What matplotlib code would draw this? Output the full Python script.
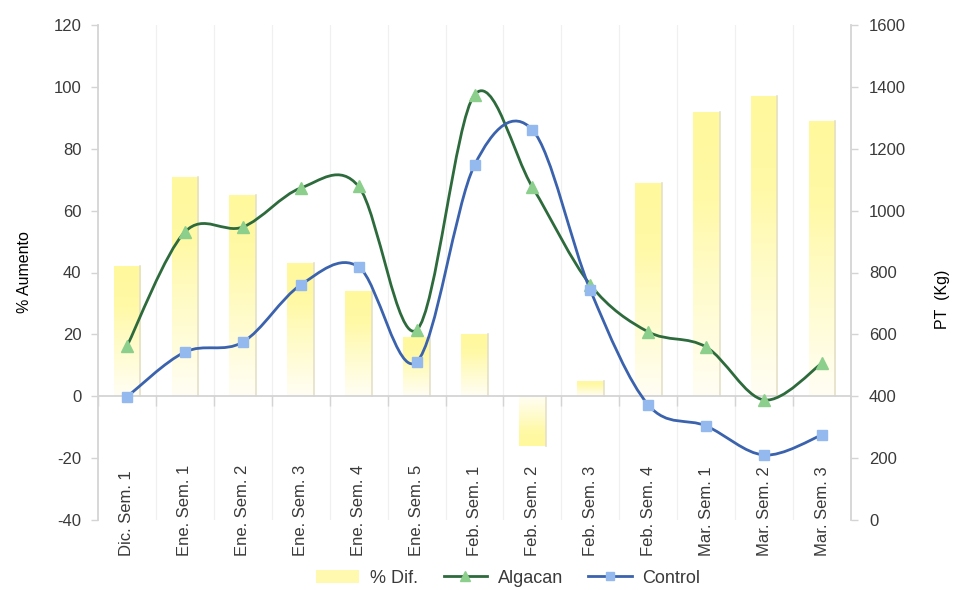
import numpy as np
import matplotlib
matplotlib.use("Agg")
import matplotlib.pyplot as plt
import matplotlib.transforms as mtransforms
from matplotlib.path import Path
from matplotlib.patches import PathPatch, Rectangle, Patch
from matplotlib.lines import Line2D
from matplotlib.colors import LinearSegmentedColormap

plt.rcParams["font.family"] = ["Liberation Sans", "DejaVu Sans"]
plt.rcParams["axes.unicode_minus"] = False

# ── Data ──────────────────────────────────────────────────────────────────────
semanas = ["Dic. Sem. 1", "Ene. Sem. 1", "Ene. Sem. 2", "Ene. Sem. 3",
           "Ene. Sem. 4", "Ene. Sem. 5", "Feb. Sem. 1", "Feb. Sem. 2",
           "Feb. Sem. 3", "Feb. Sem. 4", "Mar. Sem. 1", "Mar. Sem. 2",
           "Mar. Sem. 3"]
pct_dif = [42, 71, 65, 43, 34, 19, 20, -16, 5, 69, 92, 97, 89]
algacan = [562, 931, 947, 1073, 1078, 614, 1374, 1076, 760, 608, 559, 388, 507]
control = [398, 543, 575, 760, 818, 511, 1147, 1261, 743, 372, 304, 210, 275]

GREEN, GREEN_MK = "#2d6a3c", "#8ccf8c"
BLUE, BLUE_MK = "#3a62ad", "#94b9ef"
TXT = "#3a3a3a"
AXC = "#d4d4d4"
FS = 12


def smooth_path(xs, ys):
    """Catmull-Rom style cubic Bezier path through the points."""
    pts = np.column_stack([xs, ys]).astype(float)
    ext = np.vstack([pts[0], pts, pts[-1]])
    verts, codes = [tuple(pts[0])], [Path.MOVETO]
    for i in range(len(pts) - 1):
        p0, p1, p2, p3 = ext[i], ext[i + 1], ext[i + 2], ext[i + 3]
        c1 = p1 + (p2 - p0) / 6.0
        c2 = p2 - (p3 - p1) / 6.0
        verts += [tuple(c1), tuple(c2), tuple(p2)]
        codes += [Path.CURVE4] * 3
    return Path(verts, codes)


fig = plt.figure(figsize=(9.59, 5.90), dpi=100)
ax = fig.add_axes([98 / 959, 1 - 520 / 590, (851 - 98) / 959, (520 - 25) / 590])
ax2 = ax.twinx()

x = np.arange(len(semanas))

# faint category separators
bounds = np.arange(len(semanas) + 1) - 0.5
for b in bounds[1:-1]:
    ax.axvline(b, color="#f0f0f0", lw=0.9, zorder=0)

# gradient bars for % Dif.
cmap = LinearSegmentedColormap.from_list(
    "amarillo", [(0.0, "#fffef4"), (0.45, "#fffbc4"), (0.7, "#fff9a6"), (1.0, "#fff89c")])
grad = np.linspace(0, 1, 256).reshape(-1, 1)
w = 0.46
for xi, v in zip(x, pct_dif):
    lo, hi = min(0, v), max(0, v)
    img = grad if v >= 0 else grad[::-1]
    im = ax.imshow(img, cmap=cmap, origin="lower", aspect="auto",
                   extent=(xi - w / 2, xi + w / 2, lo, hi), zorder=1,
                   interpolation="bilinear")
    rect = Rectangle((xi - w / 2, lo), w, hi - lo, transform=ax.transData,
                     facecolor="none", edgecolor="none")
    ax.add_patch(rect)
    im.set_clip_path(rect)
    ax.plot([xi + w / 2, xi + w / 2], [lo, hi], color="#e4e0c8", lw=1.2, zorder=2)
ax.set_xlim(-0.5, len(semanas) - 0.5)
ax.set_ylim(-40, 120)
ax2.set_ylim(0, 1600)

# category axis crossing at zero
ax.axhline(0, color=AXC, lw=1.3, zorder=2)
ax.vlines(bounds, -3.2, 0, color=AXC, lw=1.0, zorder=2)

# smoothed lines on the right axis
for vals, col, mcol, mk in [(algacan, GREEN, GREEN_MK, "^"),
                            (control, BLUE, BLUE_MK, "s")]:
    ax2.add_patch(PathPatch(smooth_path(x, vals), fill=False, edgecolor=col,
                            lw=2.0, zorder=3))
    ax2.plot(x, vals, ls="none", marker=mk, ms=8 if mk == "^" else 7,
             mfc=mcol, mec=mcol, zorder=4)

# axes styling
for a in (ax, ax2):
    a.set_xticks([])
    for s in ["top", "bottom"]:
        a.spines[s].set_visible(False)
ax.spines["right"].set_visible(False)
ax2.spines["left"].set_visible(False)
ax.spines["left"].set_color(AXC)
ax2.spines["right"].set_color(AXC)
ax.spines["left"].set_linewidth(1.3)
ax2.spines["right"].set_linewidth(1.3)

ax.set_yticks(np.arange(-40, 121, 20))
ax2.set_yticks(np.arange(0, 1601, 200))
ax.tick_params(axis="y", colors=AXC, labelcolor=TXT, labelsize=FS,
               length=5, width=1.0, pad=7)
ax2.tick_params(axis="y", colors=AXC, labelcolor=TXT, labelsize=FS,
                length=5, width=1.0, pad=8)

ax.set_ylabel("% Aumento", fontsize=11.5, color="#000")
ax.yaxis.set_label_coords(-0.088, 0.5)
ax2.set_ylabel("PT  (Kg)", fontsize=11.5, color="#000", rotation=90)
ax2.yaxis.set_label_coords(1.111, 0.445)

# rotated week labels
trans = mtransforms.blended_transform_factory(ax.transData, fig.transFigure)
for xi, lab in zip(x, semanas):
    ax.text(xi, 1 - 556 / 590, lab, rotation=90, ha="center", va="bottom",
            fontsize=FS, color=TXT, transform=trans)

handles = [
    Patch(facecolor="#fff9b0", edgecolor="none", label="% Dif."),
    Line2D([], [], color=GREEN, lw=2.0, marker="^", ms=7, mfc=GREEN_MK,
           mec=GREEN_MK, label="Algacan"),
    Line2D([], [], color=BLUE, lw=2.0, marker="s", ms=6, mfc=BLUE_MK,
           mec=BLUE_MK, label="Control"),
]
fig.legend(handles=handles, loc="lower center", bbox_to_anchor=(0.53, -0.022),
           ncol=3, frameon=False, fontsize=13, labelcolor=TXT,
           handlelength=2.4, columnspacing=1.4, handletextpad=0.6)

fig.savefig("out.png", dpi=100)
